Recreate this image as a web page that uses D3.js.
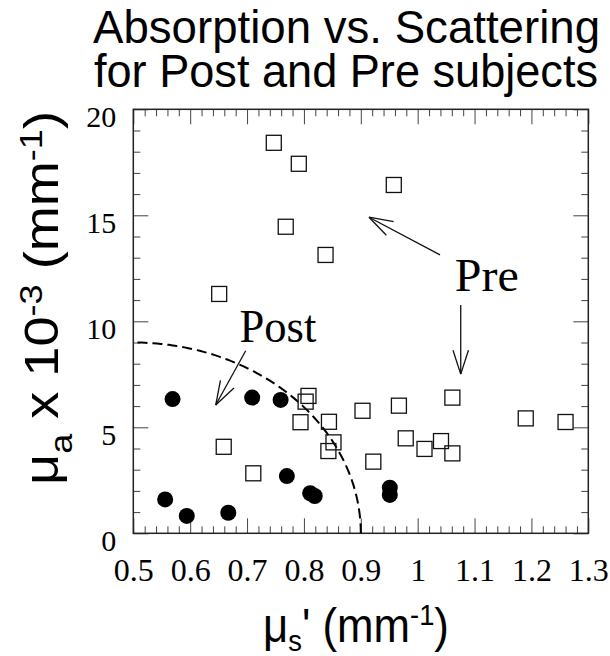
<!DOCTYPE html>
<html>
<head>
<meta charset="utf-8">
<script src="https://cdn.jsdelivr.net/npm/d3@7"></script>
<style>
  html, body { margin: 0; padding: 0; background: #fff; }
  svg { display: block; }
</style>
</head>
<body>
<svg id="chart" width="610" height="656"></svg>
<script>
// ---------------- DATA ----------------
const preX = [0.747, 0.791, 0.768, 0.838, 0.651, 0.958, 0.659, 0.711, 0.808, 0.803, 0.794, 0.844,
              0.852, 0.843, 0.903, 0.922, 0.967, 0.979, 1.012, 1.041, 1.061, 1.061, 1.190, 1.260];
const preY = [18.42, 17.43, 14.46, 13.13, 11.29, 16.43, 4.08, 2.83, 6.48, 6.21, 5.24, 5.26,
              4.29, 3.88, 5.78, 3.38, 6.02, 4.48, 3.98, 4.35, 3.77, 6.40, 5.42, 5.25];
const postX = [0.569, 0.709, 0.759, 0.556, 0.594, 0.667, 0.770, 0.811, 0.819, 0.951, 0.951];
const postY = [6.33, 6.40, 6.29, 1.60, 0.82, 0.97, 2.70, 1.89, 1.76, 2.15, 1.81];

const xTickValues = [0.5, 0.6, 0.7, 0.8, 0.9, 1.0, 1.1, 1.2, 1.3];
const xTickLabels = ["0.5", "0.6", "0.7", "0.8", "0.9", "1", "1.1", "1.2", "1.3"];
const yTickValues = [0, 5, 10, 15, 20];
const yTickLabels = ["0", "5", "10", "15", "20"];

const titleLines = ["Absorption vs. Scattering", "for Post and Pre subjects"];

// dashed boundary: quarter ellipse centred at (0.5, 0) with semi-axes 0.4 and 9
const boundaryCenter = [0.5, 0];
const boundaryRadii = [0.4, 9];

// annotations: label position and arrows [[x1,y1],[x2,y2]] in data units
const annotations = [
  { text: "Post", at: [0.6868, 9.04], arrows: [[[0.6976, 8.61], [0.6449, 6.05]]] },
  { text: "Pre",  at: [1.0654, 11.41], arrows: [[[1.0393, 13.13], [0.9144, 14.91]],
                                                  [[1.0757, 10.77], [1.0757, 7.51]]] }
];

// ---------------- LAYOUT ----------------
const svg = d3.select("#chart");
const L = 133.3, R = 588.3, T = 109.3, B = 533.3;
const x = d3.scaleLinear().domain([0.5, 1.3]).range([L, R]);
const y = d3.scaleLinear().domain([0, 20]).range([B, T]);

const serif = "'Liberation Serif', 'Times New Roman', serif";
const sans = "'Liberation Sans', Arial, Helvetica, sans-serif";

function fitWidth(textSel, target) {
  const w = textSel.node().getBBox().width;
  return target / w;
}

// Title: one text element, two lines
const title = svg.append("text").attr("font-family", sans).attr("font-size", 46);
title.append("tspan").attr("x", 93).attr("y", 43)
  .attr("textLength", 507).attr("lengthAdjust", "spacingAndGlyphs").text(titleLines[0]);
title.append("tspan").attr("x", 94).attr("y", 87.3)
  .attr("textLength", 504).attr("lengthAdjust", "spacingAndGlyphs").text(titleLines[1]);

// ---------------- AXES / TICKS ----------------
const minorX = d3.range(25, 66).map(d => d / 50).filter(v => Math.abs(v * 10 - Math.round(v * 10)) > 1e-6);
const minorY = d3.range(0, 21).filter(v => v % 5 !== 0);
const tickColor = "#444";

function styleAxis(g) {
  g.select(".domain").remove();
  g.selectAll(".tick line").attr("stroke", tickColor).attr("stroke-width", 1);
}

// bottom
svg.append("g").attr("transform", `translate(0,${B})`)
  .call(d3.axisBottom(x).tickValues(minorX).tickSize(-7).tickFormat(""))
  .call(styleAxis);
const bottomMajor = svg.append("g").attr("transform", `translate(0,${B})`)
  .call(d3.axisBottom(x).tickValues(xTickValues).tickSize(-15)
    .tickFormat((d, i) => xTickLabels[i]))
  .call(styleAxis);
bottomMajor.selectAll("text")
  .attr("y", 48.2).attr("dy", 0)
  .attr("font-family", serif).attr("font-size", 32).attr("fill", "#000");

// top
svg.append("g").attr("transform", `translate(0,${T})`)
  .call(d3.axisTop(x).tickValues(minorX).tickSize(-7).tickFormat(""))
  .call(styleAxis);
svg.append("g").attr("transform", `translate(0,${T})`)
  .call(d3.axisTop(x).tickValues(xTickValues).tickSize(-15).tickFormat(""))
  .call(styleAxis);

// left
svg.append("g").attr("transform", `translate(${L},0)`)
  .call(d3.axisLeft(y).tickValues(minorY).tickSize(-7).tickFormat(""))
  .call(styleAxis);
const leftMajor = svg.append("g").attr("transform", `translate(${L},0)`)
  .call(d3.axisLeft(y).tickValues(yTickValues).tickSize(-15)
    .tickFormat((d, i) => yTickLabels[i]))
  .call(styleAxis);
leftMajor.selectAll("text")
  .attr("x", -17).attr("dy", 0).attr("y", 17.5)
  .attr("text-anchor", "end")
  .attr("font-family", serif).attr("font-size", 30).attr("fill", "#000");

// right
svg.append("g").attr("transform", `translate(${R},0)`)
  .call(d3.axisRight(y).tickValues(minorY).tickSize(-7).tickFormat(""))
  .call(styleAxis);
svg.append("g").attr("transform", `translate(${R},0)`)
  .call(d3.axisRight(y).tickValues(yTickValues).tickSize(-15).tickFormat(""))
  .call(styleAxis);

// frame
svg.append("rect").attr("x", L).attr("y", T).attr("width", R - L).attr("height", B - T)
  .attr("fill", "none").attr("stroke", "#222").attr("stroke-width", 1.5);

// ---------------- DASHED BOUNDARY ----------------
const angles = d3.range(0, 91, 1).map(a => a * Math.PI / 180);
const boundaryPts = angles.map(t => [boundaryCenter[0] + boundaryRadii[0] * Math.cos(t),
                                     boundaryCenter[1] + boundaryRadii[1] * Math.sin(t)]);
svg.append("path")
  .attr("d", d3.line().x(d => x(d[0])).y(d => y(d[1]))(boundaryPts))
  .attr("fill", "none").attr("stroke", "#000").attr("stroke-width", 2)
  .attr("stroke-dasharray", "10,5");

// ---------------- MARKERS ----------------
const sq = 15;
svg.append("g").selectAll("rect").data(preX.map((v, i) => [v, preY[i]])).join("rect")
  .attr("x", d => x(d[0]) - sq / 2).attr("y", d => y(d[1]) - sq / 2)
  .attr("width", sq).attr("height", sq)
  .attr("fill", "none").attr("stroke", "#111").attr("stroke-width", 1.3);

svg.append("g").selectAll("circle").data(postX.map((v, i) => [v, postY[i]])).join("circle")
  .attr("cx", d => x(d[0])).attr("cy", d => y(d[1])).attr("r", 8)
  .attr("fill", "#000");

// ---------------- ANNOTATIONS ----------------
function arrow(p0, p1) {
  const x0 = x(p0[0]), y0 = y(p0[1]), x1 = x(p1[0]), y1 = y(p1[1]);
  const ang = Math.atan2(y0 - y1, x0 - x1);
  const len = 25, half = 18 * Math.PI / 180;
  const g = svg.append("g").attr("stroke", "#111").attr("stroke-width", 1.3).attr("fill", "none");
  g.append("line").attr("x1", x0).attr("y1", y0).attr("x2", x1).attr("y2", y1);
  [ang + half, ang - half].forEach(a => {
    g.append("line").attr("x1", x1).attr("y1", y1)
      .attr("x2", x1 + len * Math.cos(a)).attr("y2", y1 + len * Math.sin(a));
  });
}
const labelLen = { "Post": 77, "Pre": 64 };
annotations.forEach(a => {
  const t = svg.append("text").attr("font-family", serif).attr("font-size", 46).text(a.text);
  const k = fitWidth(t, labelLen[a.text]);
  t.attr("transform", `translate(${x(a.at[0])},${y(a.at[1])}) scale(${k},1)`);
  a.arrows.forEach(ar => arrow(ar[0], ar[1]));
});

// ---------------- AXIS TITLES ----------------
// x-axis title
const xt = svg.append("text").attr("font-family", sans).attr("font-size", 48);
xt.append("tspan").text("μ");
xt.append("tspan").attr("font-size", 30).attr("dy", 9).text("s");
xt.append("tspan").attr("dy", -9).text("' (mm");
xt.append("tspan").attr("font-size", 30).attr("dy", -17).text("-1");
xt.append("tspan").attr("dy", 17).text(")");
const kx = fitWidth(xt, 186);
xt.attr("transform", `translate(263,641.5) scale(${kx},1)`);

// y-axis title
const yt = svg.append("text").attr("font-family", sans).attr("font-size", 48);
yt.append("tspan").text("μ");
yt.append("tspan").attr("font-size", 32).attr("dy", 14).text("a");
yt.append("tspan").attr("dy", -14).text(" x 10");
yt.append("tspan").attr("font-size", 32).attr("dy", -16).text("-3");
yt.append("tspan").attr("dy", 16).text(" (mm");
yt.append("tspan").attr("font-size", 32).attr("dy", -16).text("-1");
yt.append("tspan").attr("dy", 16).text(")");
const ky = fitWidth(yt, 374);
yt.attr("transform", `translate(58,485) rotate(-90) scale(${ky},1)`);
</script>
</body>
</html>
